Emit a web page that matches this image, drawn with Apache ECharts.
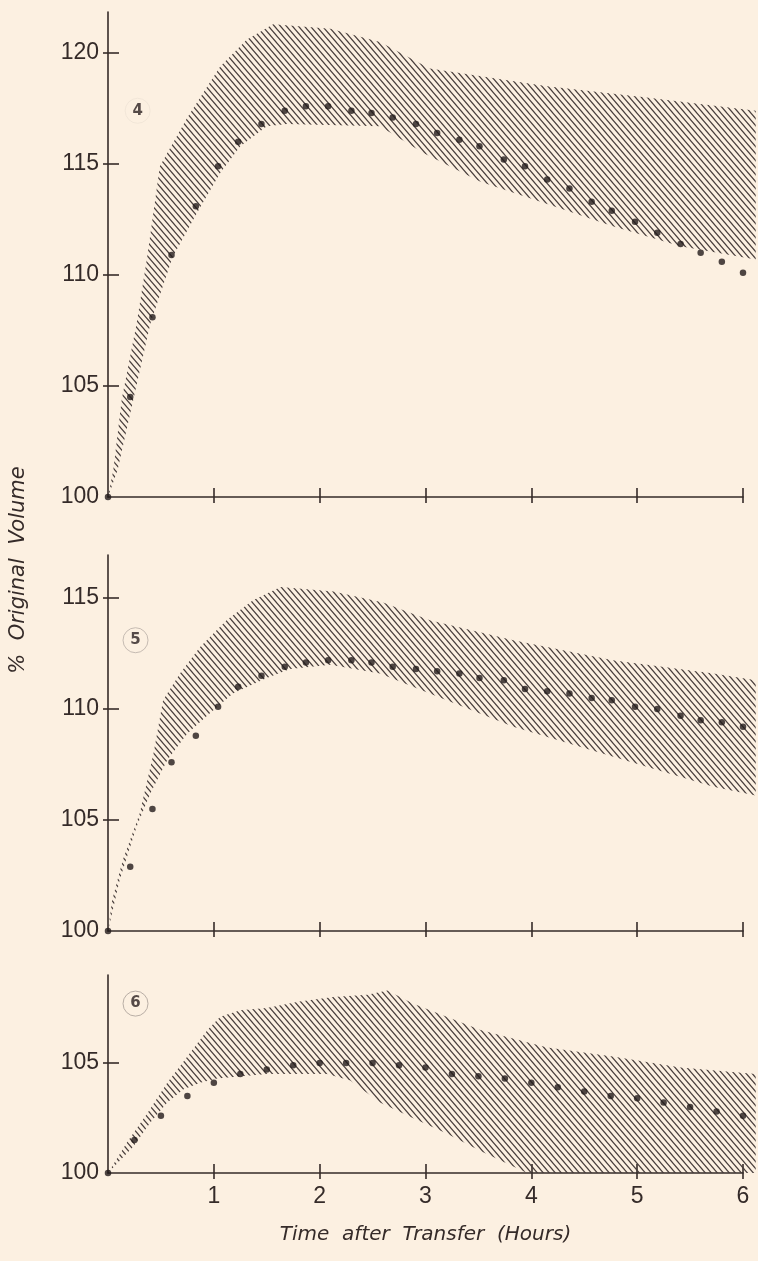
<!DOCTYPE html>
<html>
<head>
<meta charset="utf-8">
<script src="https://cdn.jsdelivr.net/npm/echarts@6/dist/echarts.min.js"></script>
<style>
  html, body { margin: 0; padding: 0; background: #fcf0e1; }
  #chart { width: 758px; height: 1261px; }
</style>
</head>
<body>
<div id="chart"></div>
<script>
// time of each reading (hours) - panels 4 and 5 share one grid, panel 6 every 15 min
var timesAB = [0, 0.21, 0.42, 0.60, 0.83, 1.04, 1.23, 1.45, 1.67, 1.87, 2.08, 2.30, 2.49, 2.69, 2.91,
    3.11, 3.32, 3.51, 3.74, 3.94, 4.15, 4.36, 4.57, 4.76, 4.98, 5.19, 5.41, 5.60, 5.80, 6.00];
var timesC = [0, 0.25, 0.5, 0.75, 1, 1.25, 1.5, 1.75, 2, 2.25, 2.5, 2.75, 3, 3.25, 3.5,
    3.75, 4, 4.25, 4.5, 4.75, 5, 5.25, 5.5, 5.75, 6];

// % original volume (dots)
var vol4 = [100, 104.5, 108.1, 110.9, 113.1, 114.9, 116.0, 116.8, 117.4, 117.6, 117.6, 117.4, 117.3, 117.1, 116.8,
    116.4, 116.1, 115.8, 115.2, 114.9, 114.3, 113.9, 113.3, 112.9, 112.4, 111.9, 111.4, 111.0, 110.6, 110.1];
var vol5 = [100, 102.9, 105.5, 107.6, 108.8, 110.1, 111.0, 111.5, 111.9, 112.1, 112.2, 112.2, 112.1, 111.9, 111.8,
    111.7, 111.6, 111.4, 111.3, 110.9, 110.8, 110.7, 110.5, 110.4, 110.1, 110.0, 109.7, 109.5, 109.4, 109.2];
var vol6 = [100, 101.5, 102.6, 103.5, 104.1, 104.5, 104.7, 104.9, 105.0, 105.0, 105.0, 104.9, 104.8, 104.5,
    104.4, 104.3, 104.1, 103.9, 103.7, 103.5, 103.4, 103.2, 103.0, 102.8, 102.6];

// hatched range, upper and lower edges as [hours, %]
var upper4 = [[0, 100], [0.05, 101.2], [0.13, 104.4], [0.27, 107.8], [0.37, 110.8], [0.49, 114.9], [0.75, 117.1],
    [1.06, 119.4], [1.31, 120.6], [1.56, 121.3], [2.10, 121.1], [2.57, 120.5], [3.04, 119.3], [4.15, 118.5],
    [5.09, 118.0], [6.12, 117.4]];
var lower4 = [[0, 100], [0.09, 101.2], [0.24, 104.4], [0.40, 107.8], [0.61, 110.8], [0.84, 112.8], [1.06, 114.6],
    [1.25, 115.8], [1.50, 116.7], [1.69, 116.8], [2.57, 116.7], [2.98, 115.5], [3.52, 114.2], [4.15, 113.2],
    [4.77, 112.2], [5.41, 111.3], [6.12, 110.7]];
var upper5 = [[0, 100], [0.04, 101.4], [0.14, 103.2], [0.30, 105.3], [0.43, 108.0], [0.52, 110.4], [0.68, 111.6],
    [0.87, 112.8], [1.12, 114.0], [1.37, 114.9], [1.63, 115.5], [2.13, 115.3], [2.60, 114.8], [3.04, 114.0],
    [3.83, 113.1], [4.77, 112.2], [5.72, 111.6], [6.12, 111.3]];
var lower5 = [[0, 100], [0.11, 102.3], [0.27, 104.7], [0.40, 106.2], [0.56, 107.7], [0.75, 108.9], [0.96, 109.8],
    [1.18, 110.7], [1.50, 111.4], [1.72, 111.8], [2.10, 112.0], [2.57, 111.6], [3.20, 110.4], [3.83, 109.2],
    [4.46, 108.3], [5.09, 107.4], [5.72, 106.5], [6.12, 106.1]];
var upper6 = [[0, 100], [0.18, 101.4], [0.37, 102.7], [0.56, 104.1], [0.75, 105.3], [0.94, 106.5], [1.06, 107.1],
    [1.25, 107.4], [1.50, 107.5], [1.81, 107.8], [2.13, 108.0], [2.45, 108.1], [2.64, 108.3], [2.88, 107.7],
    [3.52, 106.5], [4.15, 105.7], [4.77, 105.3], [5.41, 104.8], [6.12, 104.5]];
var lower6 = [[0, 100], [0.24, 101.2], [0.40, 102.3], [0.56, 103.2], [0.71, 103.8], [0.87, 104.1], [1.03, 104.3],
    [1.50, 104.5], [2.07, 104.5], [2.29, 104.2], [2.57, 103.2], [2.88, 102.5], [3.20, 101.8], [3.52, 101.0],
    [3.83, 100.3], [3.96, 100], [6.12, 100]];

// tick labels
var xTickValues = [1, 2, 3, 4, 5, 6];
var yLabels4 = [100, 105, 110, 115, 120];
var yLabels5 = [100, 105, 110, 115];
var yLabels6 = [100, 105];
var panelNames = ['4', '5', '6'];
var panelLabelPos = [[0.28, 117.4], [0.26, 113.1], [0.26, 107.7]];

var ink = '#352b29';
var textFont = 'Liberation Sans';

// diagonal hatching tile
var makeHatch = function() {
    var w = 6, h = 7;
    var c = document.createElement('canvas');
    c.width = w;
    c.height = h;
    var ctx = c.getContext('2d');
    ctx.strokeStyle = '#463c3a';
    ctx.lineWidth = 1.2;
    for (var k = -2; k <= 2; k++) {
        ctx.beginPath();
        ctx.moveTo(k * w - w, -h);
        ctx.lineTo(k * w + 2 * w, 2 * h);
        ctx.stroke();
    }
    return { type: 'pattern', image: c, repeat: 'repeat' };
};
var hatch = makeHatch();

var panels = [
    { top: 12, height: 485, yMax: 121.85, times: timesAB, vol: vol4, upper: upper4, lower: lower4, yLabels: yLabels4, circle: '#efe3d6' },
    { top: 555, height: 376, yMax: 116.94, times: timesAB, vol: vol5, upper: upper5, lower: lower5, yLabels: yLabels5, circle: '#b8aea6' },
    { top: 975, height: 198, yMax: 109.0, times: timesC, vol: vol6, upper: upper6, lower: lower6, yLabels: yLabels6, circle: '#a89d96' }
];

var grid = [], xAxis = [], yAxis = [], series = [];

panels.forEach(function(p, i) {
    grid.push({ left: 108, top: p.top, width: 635, height: p.height });

    // main x axis (line, outer half of ticks, labels only at the bottom)
    xAxis.push({
        type: 'value', gridIndex: i, min: 0, max: 6, position: 'bottom',
        axisLine: { show: true, onZero: false, lineStyle: { color: ink, width: 1.6 } },
        axisTick: { show: true, inside: false, length: 6, customValues: xTickValues, lineStyle: { color: ink, width: 1.6 } },
        axisLabel: { show: i === 2, customValues: xTickValues, margin: 12, color: ink, fontFamily: textFont, fontSize: 23 },
        splitLine: { show: false },
        name: i === 2 ? 'Time  after  Transfer  (Hours)' : '',
        nameLocation: 'middle', nameGap: 52,
        nameTextStyle: { color: ink, fontFamily: 'DejaVu Sans', fontStyle: 'italic', fontSize: 20 }
    });
    // second x axis just for the inner half of the ticks
    xAxis.push({
        type: 'value', gridIndex: i, min: 0, max: 6, position: 'bottom',
        axisLine: { show: false, onZero: false },
        axisTick: { show: true, inside: true, length: 9, customValues: xTickValues, lineStyle: { color: ink, width: 1.6 } },
        axisLabel: { show: false },
        splitLine: { show: false }
    });

    var yTicks = p.yLabels.filter(function(v) { return v > 100; });
    yAxis.push({
        type: 'value', gridIndex: i, min: 100, max: p.yMax, position: 'left',
        axisLine: { show: true, onZero: false, lineStyle: { color: ink, width: 1.6 } },
        axisTick: { show: true, inside: false, length: 5, customValues: yTicks, lineStyle: { color: ink, width: 1.6 } },
        axisLabel: { show: true, customValues: p.yLabels, margin: 9, color: ink, fontFamily: textFont, fontSize: 23 },
        splitLine: { show: false }
    });
    yAxis.push({
        type: 'value', gridIndex: i, min: 100, max: p.yMax, position: 'left',
        axisLine: { show: false, onZero: false },
        axisTick: { show: true, inside: true, length: 11, customValues: yTicks, lineStyle: { color: ink, width: 1.6 } },
        axisLabel: { show: false },
        splitLine: { show: false }
    });

    // hatched band between the two edges
    series.push({
        type: 'custom', xAxisIndex: 2 * i, yAxisIndex: 2 * i, z: 1,
        data: [[0, 100]],
        renderItem: function(params, api) {
            var pts = p.upper.map(function(d) { return api.coord(d); })
                .concat(p.lower.slice().reverse().map(function(d) { return api.coord(d); }));
            return { type: 'polygon', shape: { points: pts }, style: { fill: hatch, stroke: null } };
        },
        silent: true
    });

    // measured points
    series.push({
        type: 'scatter', xAxisIndex: 2 * i, yAxisIndex: 2 * i, z: 3,
        symbol: 'circle', symbolSize: 6.5,
        itemStyle: { color: '#221a1a' },
        data: p.times.map(function(t, k) { return [t, p.vol[k]]; }),
        silent: true
    });

    // circled panel number
    series.push({
        type: 'scatter', xAxisIndex: 2 * i, yAxisIndex: 2 * i, z: 4,
        symbol: 'circle', symbolSize: 25,
        itemStyle: { color: 'rgba(0,0,0,0)', borderColor: p.circle, borderWidth: 1 },
        label: { show: true, position: 'inside', formatter: panelNames[i], color: '#2a2121',
            fontFamily: 'DejaVu Sans', fontWeight: 'bold', fontSize: 15 },
        data: [panelLabelPos[i]],
        silent: true
    });
});

var myChart = echarts.init(document.getElementById('chart'));
myChart.setOption({
    backgroundColor: '#fcf0e1',
    animation: false,
    grid: grid,
    xAxis: xAxis,
    yAxis: yAxis,
    series: series,
    graphic: [{
        type: 'text', x: 19, y: 570, rotation: Math.PI / 2,
        style: { text: '%  Original  Volume', fill: ink, font: 'italic 21px "DejaVu Sans"', align: 'center', verticalAlign: 'middle' }
    }]
});
</script>
</body>
</html>
